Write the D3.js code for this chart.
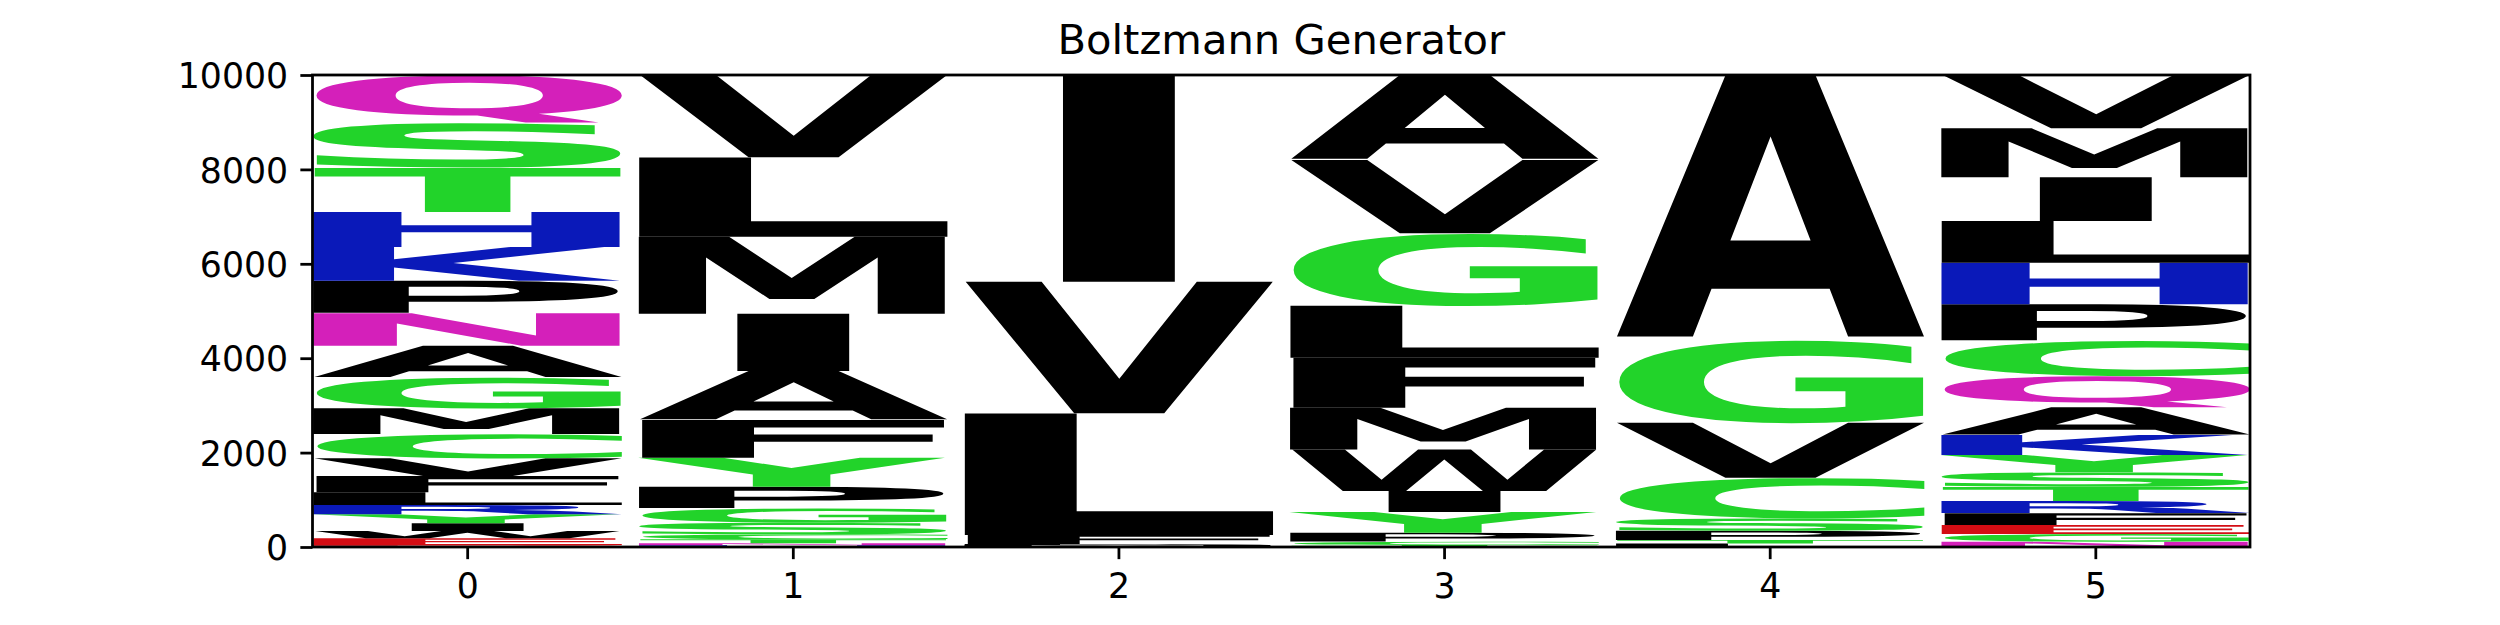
<!DOCTYPE html>
<html>
<head>
<meta charset="utf-8">
<script src="https://cdn.jsdelivr.net/npm/d3@7"></script>
<style>
html, body { margin: 0; padding: 0; background: #ffffff; }
svg { display: block; }
</style>
</head>
<body>
<svg id="chart" width="2500" height="625"></svg>
<script>
// ---------------- data (letters listed bottom -> top, counts out of 10000) ----------------
const chartTitle = "Boltzmann Generator";
const positions = [0, 1, 2, 3, 4, 5];
const xTickLabels = ["0", "1", "2", "3", "4", "5"];
const yTickValues = [0, 2000, 4000, 6000, 8000, 10000];

const pos0Letters = ["D", "E", "W", "I", "Y", "R", "L", "F", "V", "C", "M", "G", "A", "N", "P", "K", "H", "T", "S", "Q"];
const pos0Counts  = [35, 149, 155, 163, 192, 196, 269, 345, 375, 515, 545, 656, 670, 688, 690, 714, 741, 945, 947, 1010];

const pos1Letters = ["H", "N", "T", "C", "S", "G", "P", "Y", "F", "A", "I", "M", "L", "V"];
const pos1Counts  = [36, 42, 85, 106, 246, 305, 458, 614, 799, 1038, 1214, 1631, 1682, 1744];

const pos2Letters = ["A", "M", "P", "F", "L", "V", "I"];
const pos2Counts  = [20, 20, 24, 190, 2579, 2788, 4379];

const pos3Letters = ["S", "T", "C", "P", "Y", "I", "W", "M", "F", "L", "G", "V", "A"];
const pos3Counts  = [20, 22, 70, 191, 440, 443, 882, 883, 1060, 1101, 1534, 1553, 1801];

const pos4Letters = ["L", "T", "P", "S", "C", "V", "G", "A"];
const pos4Counts  = [72, 76, 197, 263, 860, 1165, 1753, 5614];

const pos5Letters = ["N", "G", "E", "F", "R", "T", "S", "Y", "K", "A", "Q", "C", "P", "H", "L", "I", "M", "V"];
const pos5Counts  = [112, 163, 191, 252, 257, 303, 305, 366, 424, 587, 663, 748, 771, 881, 884, 926, 1038, 1129];

const letterSets = [pos0Letters, pos1Letters, pos2Letters, pos3Letters, pos4Letters, pos5Letters];
const countSets  = [pos0Counts, pos1Counts, pos2Counts, pos3Counts, pos4Counts, pos5Counts];

// chemistry-style colour groups
const colorGroups = [["GSTYC", "#22d32a"], ["NQ", "#d420ba"], ["KRH", "#0a19b9"], ["DE", "#d40d14"]];
const defaultColor = "#000000";

// ---------------- drawing ----------------
function colorOf(ch) {
  for (const [set, c] of colorGroups) if (set.includes(ch)) return c;
  return defaultColor;
}

function draw() {
  const svg = d3.select("#chart");
  const M = { left: 312.5, right: 2250, top: 75, bottom: 547 };
  const glyphWidth = 0.95;

  const x = d3.scaleLinear().domain([-0.475, 5.475]).range([M.left, M.right]);
  const y = d3.scaleLinear().domain([0, 10000]).range([M.bottom, M.top]);

  const FS = 100;
  const FONT = "DejaVu Sans";
  const ctx = document.createElement("canvas").getContext("2d");
  ctx.font = `bold ${FS}px "${FONT}"`;
  const cache = {};
  const met = ch => {
    if (!cache[ch]) {
      const m = ctx.measureText(ch);
      cache[ch] = { l: m.actualBoundingBoxLeft, r: m.actualBoundingBoxRight,
                    a: m.actualBoundingBoxAscent, d: m.actualBoundingBoxDescent };
    }
    return cache[ch];
  };
  const mE = met("E");
  const eW = mE.l + mE.r;

  const glyphs = [];
  positions.forEach((p, i) => {
    let cum = 0;
    letterSets[i].forEach((ch, j) => {
      const v = countSets[i][j];
      glyphs.push({ p, ch, y0: cum, y1: cum + v });
      cum += v;
    });
  });

  const gl = svg.append("g").attr("class", "glyphs");
  gl.selectAll("text")
    .data(glyphs.filter(d => y(d.y0) - y(d.y1) > 0.05))
    .join("text")
    .text(d => d.ch)
    .attr("font-family", FONT)
    .attr("font-weight", "bold")
    .attr("font-size", FS)
    .attr("fill", d => colorOf(d.ch))
    .attr("transform", d => {
      const m = met(d.ch);
      const bw = m.l + m.r, bh = m.a + m.d;
      const x0 = x(d.p - glyphWidth / 2), x1 = x(d.p + glyphWidth / 2);
      const w = x1 - x0;
      const yt = y(d.y1), yb = y(d.y0);
      const h = yb - yt;
      const sx = Math.min(w / bw, w / eW);
      const shift = (w - sx * bw) / 2;
      const sy = h / bh;
      return `translate(${x0 + shift},${yt}) scale(${sx},${sy}) translate(${m.l},${m.a})`;
    });

  // axes
  const yAxis = d3.axisLeft(y).tickValues(yTickValues).tickFormat(d3.format("d"))
    .tickSize(12.15).tickPadding(12.15);
  svg.append("g").attr("transform", `translate(${M.left},0)`).call(yAxis)
    .call(g => g.select(".domain").remove())
    .call(g => g.selectAll("line").attr("stroke", "#000").attr("stroke-width", 2.78))
    .call(g => g.selectAll("text").attr("font-family", FONT).attr("font-size", 34.72)
      .attr("fill", "#000").attr("dy", "0.364em"));

  const xAxis = d3.axisBottom(x).tickValues(positions).tickFormat((d, i) => xTickLabels[i])
    .tickSize(12.15).tickPadding(12.15);
  svg.append("g").attr("transform", `translate(0,${M.bottom})`).call(xAxis)
    .call(g => g.select(".domain").remove())
    .call(g => g.selectAll("line").attr("stroke", "#000").attr("stroke-width", 2.78))
    .call(g => g.selectAll("text").attr("font-family", FONT).attr("font-size", 34.72)
      .attr("fill", "#000").attr("dy", "0.76em"));

  // spines
  svg.append("rect")
    .attr("x", M.left).attr("y", M.top)
    .attr("width", M.right - M.left).attr("height", M.bottom - M.top)
    .attr("fill", "none").attr("stroke", "#000").attr("stroke-width", 2.78);

  // title
  svg.append("text")
    .attr("x", (M.left + M.right) / 2).attr("y", M.top - 20.8)
    .attr("text-anchor", "middle")
    .attr("font-family", FONT).attr("font-size", 41.67).attr("fill", "#000")
    .text(chartTitle);
}

if (document.fonts && document.fonts.load) {
  document.fonts.load('bold 100px "DejaVu Sans"').then(draw, draw);
} else {
  draw();
}
</script>
</body>
</html>
